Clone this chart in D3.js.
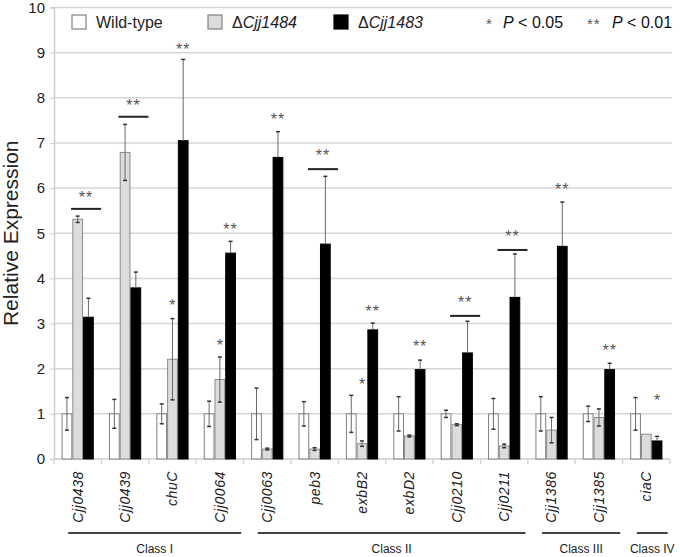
<!DOCTYPE html>
<html><head><meta charset="utf-8">
<script src="https://cdn.jsdelivr.net/npm/d3@7"></script>
<style>body{margin:0;background:#fff}svg{display:block}text{font-family:"Liberation Sans",Arial,sans-serif}</style>
</head><body><svg id="c" width="680" height="557"></svg>
<script>
const genes = ["Cjj0438","Cjj0439","chuC","Cjj0064","Cjj0063","peb3","exbB2","exbD2","Cjj0210","Cjj0211","Cjj1386","Cjj1385","ciaC"];
const seriesNames = ["Wild-type","ΔCjj1484","ΔCjj1483"];
const wildType    = [1,1,1,1,1,1,1,1,1,1,1,1,1];
const wildTypeErr = [0.36,0.32,0.22,0.28,0.57,0.27,0.41,0.38,0.08,0.34,0.38,0.17,0.36];
const cjj1484     = [5.31,6.79,2.21,1.76,0.22,0.22,0.34,0.51,0.76,0.29,0.64,0.92,0.55];
const cjj1484Err  = [0.07,0.62,0.90,0.50,0.02,0.03,0.06,0.02,0.02,0.04,0.28,0.19,0];
const cjj1483     = [3.14,3.79,7.05,4.56,6.68,4.76,2.86,1.98,2.35,3.58,4.71,1.98,0.40];
const cjj1483Err  = [0.42,0.35,1.80,0.26,0.57,1.50,0.15,0.21,0.70,0.96,0.98,0.14,0.10];
const yTicks = [0,1,2,3,4,5,6,7,8,9,10];
// significance annotations
const sigGenes  = ["Cjj0438","Cjj0439","chuC","chuC","Cjj0064","Cjj0064","Cjj0063","peb3","exbB2","exbB2","exbD2","Cjj0210","Cjj0211","Cjj1386","Cjj1385","ciaC"];
const sigSeries = ["bracket","bracket","ΔCjj1484","ΔCjj1483","ΔCjj1484","ΔCjj1483","ΔCjj1483","bracket","ΔCjj1484","ΔCjj1483","ΔCjj1483","bracket","bracket","ΔCjj1483","ΔCjj1483","ΔCjj1483"];
const sigText   = ["**","**","*","**","*","**","**","**","*","**","**","**","**","**","**","*"];
const sigLevels = [5.88,7.91,3.48,9.14,2.60,5.17,7.60,6.79,1.73,3.35,2.58,3.54,5.00,6.04,2.48,1.37];
const bracketGenes  = ["Cjj0438","Cjj0439","peb3","Cjj0210","Cjj0211"];
const bracketLevels = [5.54,7.58,6.42,3.17,4.63];
const classNames = ["Class I","Class II","Class III","Class IV"];
const classFirst = ["Cjj0438","Cjj0063","Cjj1386","ciaC"];
const classLast  = ["Cjj0064","Cjj0211","Cjj1385","ciaC"];

const svg = d3.select("#c");
const X0 = 54, X1 = 670, Y0 = 459, Y1 = 7.5;
const x0 = d3.scaleBand().domain(genes).range([X0, X1]).paddingInner(0.32).paddingOuter(0.16);
const x1 = d3.scaleBand().domain(seriesNames).range([0, x0.bandwidth()]);
const y = d3.scaleLinear().domain([0,10]).range([Y0, Y1]);
const step = x0.step();

const fills = {"Wild-type":"#ffffff","ΔCjj1484":"#dcdcdc","ΔCjj1483":"#000000"};
const strokes = {"Wild-type":"#808080","ΔCjj1484":"#8c8c8c","ΔCjj1483":"#000000"};

// gridlines
svg.append("g").selectAll("line").data(yTicks.filter(d=>d>0)).join("line")
  .attr("x1", X0).attr("x2", 672).attr("y1", d=>y(d)).attr("y2", d=>y(d))
  .attr("stroke", "#d6d6d6").attr("stroke-width", 1.5);

// y axis
const yAxis = svg.append("g").attr("transform", `translate(${X0},0)`)
  .call(d3.axisLeft(y).tickValues(yTicks).tickSize(4).tickPadding(5));
yAxis.select(".domain").attr("stroke", "#cfcfcf").attr("stroke-width", 1.5);
yAxis.selectAll(".tick line").attr("stroke", "#cfcfcf");
yAxis.selectAll(".tick text").attr("font-size", 15).attr("fill", "#222")
  .attr("font-family", '"Liberation Sans",Arial,sans-serif');

// x axis line + boundary ticks
svg.append("line").attr("x1", X0).attr("x2", X1).attr("y1", Y0).attr("y2", Y0)
  .attr("stroke", "#cfcfcf").attr("stroke-width", 1.5);
const bounds = d3.range(genes.length + 1).map(i => X0 + i * step);
svg.append("g").selectAll("line").data(bounds).join("line")
  .attr("x1", d=>d).attr("x2", d=>d).attr("y1", Y0).attr("y2", Y0 + 5)
  .attr("stroke", "#cfcfcf").attr("stroke-width", 1.2);

// bars
const seriesVals = {"Wild-type":wildType,"ΔCjj1484":cjj1484,"ΔCjj1483":cjj1483};
const seriesErr  = {"Wild-type":wildTypeErr,"ΔCjj1484":cjj1484Err,"ΔCjj1483":cjj1483Err};
const rows = [];
genes.forEach((g,i) => seriesNames.forEach(s => rows.push({g, s, v: seriesVals[s][i], e: seriesErr[s][i]})));

const barG = svg.append("g");
barG.selectAll("rect").data(rows).join("rect")
  .attr("x", d => x0(d.g) + x1(d.s) + 0.5)
  .attr("y", d => y(d.v))
  .attr("width", x1.bandwidth() - 1)
  .attr("height", d => Y0 - y(d.v))
  .attr("fill", d => fills[d.s]).attr("stroke", d => strokes[d.s]).attr("stroke-width", 1);

// error bars
const errG = svg.append("g");
rows.filter(d => d.e > 0).forEach(d => {
  const cx = x0(d.g) + x1(d.s) + x1.bandwidth()/2;
  const lo = d.s === "ΔCjj1483" ? d.v : d.v - d.e;
  errG.append("line").attr("x1", cx).attr("x2", cx).attr("y1", y(lo)).attr("y2", y(d.v + d.e))
    .attr("stroke", "#6a6a6a").attr("stroke-width", 1);
  const caps = d.s === "ΔCjj1483" ? [d.v + d.e] : [d.v - d.e, d.v + d.e];
  caps.forEach(c => errG.append("line").attr("x1", cx - 2).attr("x2", cx + 2).attr("y1", y(c)).attr("y2", y(c))
    .attr("stroke", "#333").attr("stroke-width", 1.5));
});

// brackets
function bracketCenter(g){ return x0(g) + x1("ΔCjj1483") + 3; }
svg.append("g").selectAll("line").data(bracketGenes).join("line")
  .attr("x1", g => bracketCenter(g) - 15).attr("x2", g => bracketCenter(g) + 15)
  .attr("y1", (g,i) => y(bracketLevels[i])).attr("y2", (g,i) => y(bracketLevels[i]))
  .attr("stroke", "#222").attr("stroke-width", 2);

// significance stars
svg.append("g").selectAll("text").data(sigGenes).join("text")
  .attr("x", (g,i) => sigSeries[i] === "bracket" ? bracketCenter(g) : x0(g) + x1(sigSeries[i]) + x1.bandwidth()/2)
  .attr("y", (g,i) => y(sigLevels[i]) + 9)
  .attr("text-anchor", "middle").attr("font-size", 16).attr("fill", "#555")
  .attr("letter-spacing", (g,i) => sigText[i].length > 1 ? 1 : 0)
  .text((g,i) => sigText[i]);

// x labels
svg.append("g").selectAll("text").data(genes).join("text")
  .attr("transform", g => `translate(${x0(g) + x0.bandwidth()/2},${Y0 + 12}) rotate(-90)`)
  .attr("dy", "0.35em").attr("text-anchor", "end")
  .attr("font-size", 14).attr("letter-spacing", 0.6).attr("font-style", "italic").attr("fill", "#222")
  .text(g => g);

// class lines
const cls = svg.append("g");
classNames.forEach((c,i) => {
  const a = x0(classFirst[i]) - step*0.16 + step*0.3;
  const b = x0(classLast[i]) + x0.bandwidth() + step*0.16 - step*0.05;
  cls.append("line").attr("x1", a).attr("x2", b).attr("y1", 533).attr("y2", 533)
    .attr("stroke", "#444").attr("stroke-width", 2);
  cls.append("text").attr("x", (a+b)/2).attr("y", 553).attr("text-anchor", "middle")
    .attr("font-size", 12).attr("fill", "#222").text(c);
});

// y label
svg.append("text").attr("transform", `translate(18,${(Y0+Y1)/2}) rotate(-90)`)
  .attr("text-anchor", "middle").attr("font-size", 21).attr("fill", "#222").text("Relative Expression");

// legend
const leg = svg.append("g");
const legX = [72, 208, 334];
seriesNames.forEach((s,i) => {
  leg.append("rect").attr("x", legX[i]).attr("y", 15).attr("width", 14).attr("height", 14)
    .attr("fill", fills[s]).attr("stroke", s === "ΔCjj1483" ? "#000" : "#808080").attr("stroke-width", 1.2);
  const t = leg.append("text").attr("x", legX[i] + 24).attr("y", 27.5).attr("font-size", 16).attr("fill", "#222");
  if (s.startsWith("Δ")) { t.append("tspan").text("Δ"); t.append("tspan").attr("font-style","italic").text(s.slice(1)); }
  else t.text(s);
});
[["*", "0.05", 486], ["**", "0.01", 587]].forEach(([st, p, xx]) => {
  leg.append("text").attr("x", xx).attr("y", 28.5).attr("font-size", 15).attr("fill", "#555")
    .attr("letter-spacing", st.length > 1 ? 1 : 0).text(st);
  const t = leg.append("text").attr("x", xx + (st.length > 1 ? 25 : 17)).attr("y", 27.5).attr("font-size", 16).attr("fill", "#111");
  t.append("tspan").attr("font-style", "italic").text("P");
  t.append("tspan").text(" < " + p);
});
</script></body></html>
